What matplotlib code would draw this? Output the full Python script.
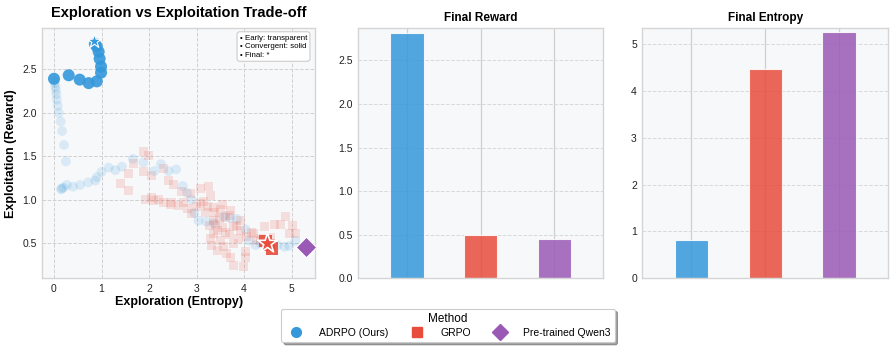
import matplotlib
matplotlib.use("Agg")
import matplotlib.pyplot as plt
from matplotlib.lines import Line2D
import numpy as np

plt.rcParams['font.family'] = ['Liberation Sans', 'DejaVu Sans']

BLUE = '#3498db'
RED = '#e74c3c'
PURPLE = '#9b59b6'

methods = ['ADRPO (Ours)', 'GRPO', 'Pre-trained Qwen3']
final_reward = [2.82, 0.49, 0.45]
final_entropy = [0.82, 4.46, 5.26]

# ADRPO trajectory (entropy, reward), early -> late
adrpo_entropy = [5.08, 4.95, 4.85, 4.70, 4.50, 4.35, 4.24, 4.10, 4.03, 3.85,
                 3.71, 3.57, 3.36, 3.20, 3.04, 2.95, 2.90, 2.80, 2.71, 2.57,
                 2.41, 2.25, 2.11, 1.88, 1.66, 1.43, 1.29, 1.15, 1.00, 0.90,
                 0.87, 0.72, 0.55, 0.40, 0.27, 0.20, 0.16, 0.15, 0.25, 0.21,
                 0.17, 0.14, 0.10, 0.08, 0.06, 0.05, 0.04, 0.03, 0.02, 0.01,
                 0.00, 0.31, 0.54, 0.73, 0.90, 0.99, 0.99, 0.96, 0.94, 0.90,
                 0.86]
adrpo_reward = [0.53, 0.47, 0.46, 0.48, 0.50, 0.50, 0.48, 0.53, 0.66, 0.78,
                0.79, 0.81, 0.73, 0.75, 0.76, 0.85, 1.00, 1.08, 1.16, 1.35,
                1.33, 1.41, 1.33, 1.43, 1.47, 1.38, 1.34, 1.37, 1.32, 1.26,
                1.22, 1.20, 1.17, 1.15, 1.17, 1.14, 1.13, 1.12, 1.44, 1.63,
                1.79, 1.90, 2.00, 2.08, 2.15, 2.21, 2.26, 2.30, 2.34, 2.37,
                2.39, 2.43, 2.38, 2.34, 2.36, 2.46, 2.53, 2.62, 2.70, 2.76,
                2.79]
adrpo_final = (0.85, 2.82)

# GRPO trajectory (entropy, reward), early -> late
grpo_entropy = [1.39, 1.57, 1.57, 1.67, 1.88, 1.99, 1.88, 2.06, 2.31, 2.41,
                2.52, 2.69, 2.87, 3.08, 3.25, 3.29, 3.08, 2.73, 2.48, 2.31,
                2.09, 1.92, 2.06, 2.20, 2.45, 2.62, 2.80, 2.90, 3.00, 3.15,
                3.22, 3.36, 3.50, 3.71, 3.60, 3.36, 3.43, 3.36, 3.28, 3.18,
                3.30, 3.50, 3.57, 3.78, 3.92, 3.78, 3.92, 3.70, 3.55, 3.40,
                3.32, 3.45, 3.62, 3.71, 3.78, 3.99, 4.03, 4.03, 3.88, 3.60,
                3.48, 3.38, 3.55, 3.70, 3.85, 4.05, 4.20, 4.42, 4.63, 4.87,
                5.01, 5.08, 4.96, 4.77, 4.56, 4.27, 4.15, 4.35, 4.45, 4.59,
                4.52]
grpo_reward = [1.19, 1.11, 1.30, 1.42, 1.55, 1.51, 1.32, 1.28, 1.36, 1.22,
               1.17, 1.09, 1.07, 1.13, 1.15, 1.05, 0.96, 0.97, 0.97, 0.97,
               0.99, 1.00, 1.03, 1.00, 0.95, 0.93, 0.90, 0.84, 0.92, 0.98,
               0.92, 0.91, 0.89, 0.88, 0.80, 0.76, 0.65, 0.61, 0.70, 0.85,
               0.55, 0.53, 0.46, 0.50, 0.65, 0.69, 0.76, 0.60, 0.68, 0.72,
               0.48, 0.42, 0.38, 0.34, 0.25, 0.23, 0.34, 0.41, 0.55, 0.62,
               0.78, 0.85, 0.95, 0.82, 0.70, 0.58, 0.61, 0.69, 0.72, 0.81,
               0.71, 0.61, 0.61, 0.72, 0.57, 0.53, 0.62, 0.55, 0.53, 0.44,
               0.48]
grpo_final = (4.49, 0.50)

qwen_point = (5.30, 0.46)

N_SOLID_ADRPO = 11
N_SOLID_GRPO = 3


def style_axes(ax):
    ax.set_facecolor('#f7f8fa')
    for sp in ax.spines.values():
        sp.set_color('#d5d5d5')
        sp.set_linewidth(1.0)
    ax.tick_params(length=0, labelsize=7.5, pad=4, colors='#222222')


fig = plt.figure(figsize=(8.96, 3.49), dpi=100)
ax0 = fig.add_axes([0.047, 0.203, 0.305, 0.716])
ax1 = fig.add_axes([0.400, 0.203, 0.273, 0.716])
ax2 = fig.add_axes([0.717, 0.203, 0.274, 0.716])

# Scatter trajectory panel
style_axes(ax0)
ax0.grid(True, linestyle='--', color='#d0d0d0', linewidth=0.7)
ax0.set_axisbelow(True)

n = len(adrpo_entropy)
alphas = [0.15] * (n - N_SOLID_ADRPO) + [0.9] * N_SOLID_ADRPO
sizes = [50] * (n - N_SOLID_ADRPO) + [75] * N_SOLID_ADRPO
colors = [matplotlib.colors.to_rgba(BLUE, a) for a in alphas]
ax0.scatter(adrpo_entropy, adrpo_reward, s=sizes, c=colors, marker='o',
            edgecolors='none', zorder=3)

m = len(grpo_entropy)
galphas = [0.15] * (m - N_SOLID_GRPO) + [0.9] * N_SOLID_GRPO
gsizes = [42] * (m - N_SOLID_GRPO) + [80] * N_SOLID_GRPO
gcolors = [matplotlib.colors.to_rgba(RED, a) for a in galphas]
ax0.scatter(grpo_entropy, grpo_reward, s=gsizes, c=gcolors, marker='s',
            edgecolors='none', zorder=3)

ax0.scatter(*adrpo_final, s=110, marker='*', color=BLUE, edgecolors='white',
            linewidths=0.8, zorder=5)
ax0.scatter(*grpo_final, s=220, marker='*', color=RED, edgecolors='white',
            linewidths=1.2, zorder=5)
ax0.scatter(*qwen_point, s=110, marker='D', color=PURPLE, edgecolors='white',
            linewidths=0.8, zorder=5)

ax0.set_xlim(-0.25, 5.5)
ax0.set_ylim(0.1, 2.97)
ax0.set_xticks([0, 1, 2, 3, 4, 5])
ax0.set_yticks([0.5, 1.0, 1.5, 2.0, 2.5])
ax0.set_xlabel('Exploration (Entropy)', fontsize=9, fontweight='bold', labelpad=2)
ax0.set_ylabel('Exploitation (Reward)', fontsize=9, fontweight='bold', labelpad=4)
ax0.set_title('Exploration vs Exploitation Trade-off', fontsize=10.5,
              fontweight='bold', pad=8)
ax0.text(0.97, 0.975, '• Early: transparent\n• Convergent: solid\n• Final: *',
         transform=ax0.transAxes, ha='right', va='top', fontsize=5.7,
         multialignment='left', linespacing=1.3,
         bbox=dict(boxstyle='round,pad=0.35', facecolor='white',
                   edgecolor='#cccccc', linewidth=0.8))

# Bar panels
bar_colors = [BLUE, RED, PURPLE]
x = np.arange(len(methods))
for ax, vals, title, top, ticks in [
        (ax1, final_reward, 'Final Reward', 2.87, [0.0, 0.5, 1.0, 1.5, 2.0, 2.5]),
        (ax2, final_entropy, 'Final Entropy', 5.34, [0, 1, 2, 3, 4, 5])]:
    style_axes(ax)
    ax.grid(True, axis='x', linestyle='-', color='#cfcfcf', linewidth=0.9)
    ax.grid(True, axis='y', linestyle='--', color='#d9d9d9', linewidth=0.7)
    ax.set_axisbelow(True)
    ax.bar(x, vals, width=0.45, color=bar_colors, alpha=0.85,
           edgecolor='white', linewidth=0.8)
    ax.set_xlim(-0.66, 2.66)
    ax.set_ylim(0, top)
    ax.set_xticks(x)
    ax.set_xticklabels([])
    ax.set_yticks(ticks)
    if ax is ax1:
        ax.set_yticklabels([f'{t:.1f}' for t in ticks])
    ax.set_title(title, fontsize=8.5, fontweight='bold', pad=5)

handles = [
    Line2D([0], [0], marker='o', linestyle='none', color=BLUE, markersize=7),
    Line2D([0], [0], marker='s', linestyle='none', color=RED, markersize=7),
    Line2D([0], [0], marker='D', linestyle='none', color=PURPLE, markersize=8),
]
leg = fig.legend(handles, methods, title='Method', loc='lower center',
                 bbox_to_anchor=(0.5, 0.005), ncol=3, fontsize=7.5,
                 title_fontsize=8.5, frameon=True, shadow=True,
                 columnspacing=1.8, handletextpad=1.2, borderpad=0.4,
                 labelspacing=0.3)
leg.get_frame().set_edgecolor('#cccccc')
leg.get_frame().set_linewidth(0.8)

fig.savefig('out.png', dpi=100)
